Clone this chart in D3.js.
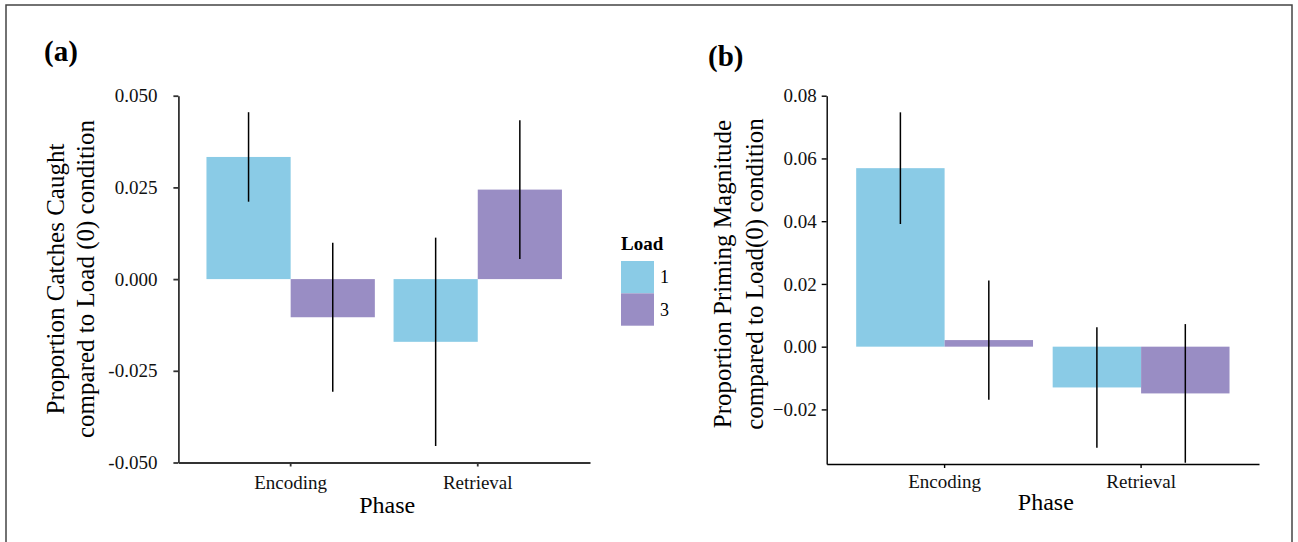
<!DOCTYPE html>
<html lang="en">
<head>
<meta charset="UTF-8">
<script src="https://cdn.jsdelivr.net/npm/d3@7"></script>
<style>
    body { margin: 0; background: white; }
    svg { display: block; font-family: "Liberation Serif", "Times New Roman", serif; }
</style>
</head>
<body>
<div id="container"></div>
<script>
    // ---- data ----
    const phases = ["Encoding", "Retrieval"];
    const loads = ["1", "3"];

    // (a) proportion catches caught, relative to load 0
    const catchLoad1 = [0.0333, -0.0171];
    const catchLoad3 = [-0.0104, 0.0244];
    const catchErr1 = [0.0122, 0.0284];
    const catchErr3 = [0.0203, 0.0189];
    const catchTicks = [-0.05, -0.025, 0, 0.025, 0.05];

    // (b) proportion priming magnitude, relative to load 0
    const primeLoad1 = [0.0569, -0.0130];
    const primeLoad3 = [0.0021, -0.0149];
    const primeErr1 = [0.0178, 0.0192];
    const primeErr3 = [0.0190, 0.0221];
    const primeTicks = [-0.02, 0, 0.02, 0.04, 0.06, 0.08];

    const colors = {"1": "#8acbe6", "3": "#998dc4"};

    const W = 1298, H = 542;
    const svg = d3.select("#container").append("svg")
        .attr("width", W).attr("height", H);

    // outer frame
    svg.append("rect")
        .attr("x", 6).attr("y", 5)
        .attr("width", 1286).attr("height", 560)
        .attr("fill", "none").attr("stroke", "#444").attr("stroke-width", 1.5);

    function rows(v1, v3, e1, e3) {
        let out = [];
        phases.forEach((p, i) => {
            out.push({phase: p, load: "1", value: v1[i], err: e1[i]});
            out.push({phase: p, load: "3", value: v3[i], err: e3[i]});
        });
        return out;
    }

    function drawPanel(cfg) {
        const data = rows(cfg.v1, cfg.v3, cfg.e1, cfg.e3);
        const g = svg.append("g");

        const x = d3.scaleBand().domain(phases)
            .range([cfg.left, cfg.right])
            .paddingInner(0.1).paddingOuter(0.15);
        const xLoad = d3.scaleBand().domain(loads).range([0, x.bandwidth()]);
        const y = d3.scaleLinear().domain(cfg.domain).range([cfg.bottom, cfg.top]);

        // bars
        g.selectAll("rect.bar").data(data).enter().append("rect")
            .attr("class", "bar")
            .attr("x", d => x(d.phase) + xLoad(d.load))
            .attr("width", xLoad.bandwidth())
            .attr("y", d => y(Math.max(0, d.value)))
            .attr("height", d => Math.abs(y(d.value) - y(0)))
            .attr("fill", d => colors[d.load]);

        // error bars
        g.selectAll("line.err").data(data).enter().append("line")
            .attr("class", "err")
            .attr("x1", d => x(d.phase) + xLoad(d.load) + xLoad.bandwidth() / 2)
            .attr("x2", d => x(d.phase) + xLoad(d.load) + xLoad.bandwidth() / 2)
            .attr("y1", d => y(d.value + d.err))
            .attr("y2", d => y(d.value - d.err))
            .attr("stroke", "black").attr("stroke-width", 1.5);

        // axes
        const yAxis = g.append("g")
            .attr("transform", `translate(${cfg.left},0)`)
            .call(d3.axisLeft(y).tickValues(cfg.ticks).tickFormat(cfg.fmt)
                .tickSize(cfg.tickLen).tickPadding(cfg.yPad).tickSizeOuter(0));
        const xAxis = g.append("g")
            .attr("transform", `translate(0,${cfg.bottom})`)
            .call(d3.axisBottom(x).tickSize(4).tickPadding(cfg.xPad).tickSizeOuter(0));

        [yAxis, xAxis].forEach(a => {
            a.select(".domain").attr("stroke", cfg.axisColor).attr("stroke-width", cfg.axisWidth);
            a.selectAll(".tick line").attr("stroke", cfg.axisColor).attr("stroke-width", cfg.axisWidth);
            a.selectAll("text").attr("fill", "#111")
                .style("font-family", "'Liberation Serif', serif").style("font-size", "19px");
        });

        // y title, two lines
        const cy = cfg.titleY;
        cfg.yTitle.forEach((t, i) => {
            g.append("text")
                .attr("transform", `translate(${cfg.titleX[i]},${cy}) rotate(-90)`)
                .attr("text-anchor", "middle")
                .style("font-size", "25px")
                .text(t);
        });

        // x title
        g.append("text")
            .attr("x", (cfg.left + cfg.right) / 2 + 3)
            .attr("y", cfg.phaseY)
            .attr("text-anchor", "middle")
            .style("font-size", "24px")
            .text("Phase");

        // panel letter
        g.append("text")
            .attr("x", cfg.tagX).attr("y", cfg.tagY)
            .style("font-size", "29px").style("font-weight", "bold")
            .text(cfg.tag);
    }

    drawPanel({
        v1: catchLoad1, v3: catchLoad3, e1: catchErr1, e3: catchErr3,
        ticks: catchTicks,
        fmt: d => d3.format(".3f")(d).replace("\u2212", "-"),
        domain: [-0.05, 0.05],
        left: 178.4, right: 590, top: 95.7, bottom: 462.5,
        tickLen: 5, yPad: 16, xPad: 9,
        axisColor: "#333", axisWidth: 1.8,
        yTitle: ["Proportion Catches Caught", "compared to Load (0) condition"],
        titleX: [64, 94], titleY: 279,
        phaseY: 513,
        tag: "(a)", tagX: 44, tagY: 61
    });

    drawPanel({
        v1: primeLoad1, v3: primeLoad3, e1: primeErr1, e3: primeErr3,
        ticks: primeTicks,
        fmt: d3.format(".2f"),
        domain: [-0.0374, 0.08],
        left: 826.7, right: 1259, top: 95.7, bottom: 464,
        tickLen: 5, yPad: 5, xPad: 6.5,
        axisColor: "#000", axisWidth: 1.4,
        yTitle: ["Proportion Priming Magnitude", "compared to Load(0) condition"],
        titleX: [731, 763], titleY: 274,
        phaseY: 510,
        tag: "(b)", tagX: 708, tagY: 66
    });

    // legend
    const legend = svg.append("g").attr("transform", "translate(621,250)");
    legend.append("text")
        .style("font-size", "19px").style("font-weight", "bold")
        .text("Load");
    const key = d3.scaleBand().domain(loads).range([11, 75.7]);
    legend.selectAll("rect").data(loads).enter().append("rect")
        .attr("x", 0).attr("y", d => key(d))
        .attr("width", 33).attr("height", key.bandwidth())
        .attr("fill", d => colors[d]);
    legend.selectAll("text.lab").data(loads).enter().append("text")
        .attr("class", "lab")
        .attr("x", 39).attr("y", d => key(d) + key.bandwidth() / 2 + 6)
        .style("font-size", "18px")
        .text(d => d);
</script>
</body>
</html>
